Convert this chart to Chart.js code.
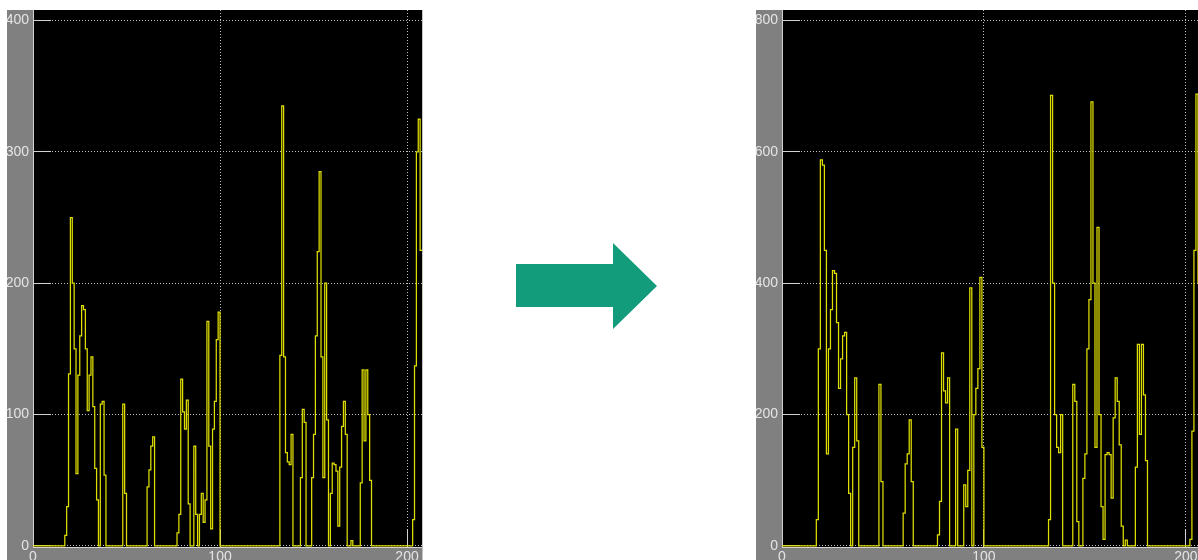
<!DOCTYPE html>
<html>
<head>
<meta charset="utf-8">
<script src="https://cdn.jsdelivr.net/npm/chart.js@4.4.1/dist/chart.umd.min.js"></script>
<style>
  html, body { margin: 0; padding: 0; background: #fff; overflow: hidden; }
  body { width: 1198px; height: 560px; position: relative; }
  .panel { position: absolute; top: 10px; height: 560px; background: #808080; }
  #leftPanel { left: 7px; width: 415px; border-right: 1px solid #c4c4c4; }
  #rightPanel { left: 756px; width: 446px; }
  .panel canvas { display: block; }
  #arrow {
    position: absolute; left: 516px; top: 243px; width: 141px; height: 86px;
    background: #139c7c;
    clip-path: polygon(0 21px, 97px 21px, 97px 0, 141px 43px, 97px 86px, 97px 64px, 0 64px);
  }
</style>
</head>
<body>
<div class="panel" id="leftPanel"><canvas id="leftChart" width="415" height="560"></canvas></div>
<div id="arrow"></div>
<div class="panel" id="rightPanel"><canvas id="rightChart" width="446" height="560"></canvas></div>
<script>
// Sample index runs 0..208, one value per sample
const xTicks = [0, 100, 200];
const leftYTicks = [0, 100, 200, 300, 400];
const rightYTicks = [0, 200, 400, 600, 800];

// Before (left panel)
const leftValues = [
    0, 0, 0, 0, 0, 0, 0, 0, 0, 0,
    0, 0, 0, 0, 0, 0, 0, 8, 30, 131,
    250, 200, 150, 55, 130, 160, 183, 180, 150, 103,
    130, 144, 106, 59, 35, 0, 108, 110, 54, 0,
    0, 0, 0, 0, 0, 0, 0, 0, 108, 40,
    0, 0, 0, 0, 0, 0, 0, 0, 0, 0,
    0, 45, 58, 76, 83, 0, 0, 0, 0, 0,
    0, 0, 0, 0, 0, 0, 0, 10, 24, 127,
    102, 89, 111, 32, 0, 0, 76, 24, 0, 24,
    40, 18, 35, 171, 76, 13, 89, 110, 157, 178,
    0, 0, 0, 0, 0, 0, 0, 0, 0, 0,
    0, 0, 0, 0, 0, 0, 0, 0, 0, 0,
    0, 0, 0, 0, 0, 0, 0, 0, 0, 0,
    0, 0, 145, 335, 144, 71, 64, 62, 85, 0,
    0, 0, 0, 52, 104, 94, 0, 0, 0, 52,
    85, 160, 224, 285, 144, 52, 200, 96, 0, 40,
    63, 62, 57, 15, 60, 91, 110, 85, 0, 0,
    4, 0, 0, 0, 0, 48, 134, 80, 134, 100,
    50, 0, 0, 0, 0, 0, 0, 0, 0, 0,
    0, 0, 0, 0, 0, 0, 0, 0, 0, 0,
    0, 0, 0, 20, 137, 300, 325, 225, 225
];

// After (right panel)
const rightValues = [
    0, 0, 0, 0, 0, 0, 0, 0, 0, 0,
    0, 0, 0, 0, 0, 0, 0, 40, 300, 588,
    580, 450, 140, 300, 360, 419, 415, 340, 240, 285,
    320, 325, 200, 80, 0, 150, 256, 160, 0, 0,
    0, 0, 0, 0, 0, 0, 0, 0, 246, 98,
    0, 0, 0, 0, 0, 0, 0, 0, 0, 0,
    50, 125, 140, 192, 98, 0, 0, 0, 0, 0,
    0, 0, 0, 0, 0, 0, 0, 17, 68, 294,
    236, 218, 256, 0, 0, 0, 178, 0, 0, 0,
    93, 60, 115, 393, 0, 200, 240, 270, 409, 150,
    0, 0, 0, 0, 0, 0, 0, 0, 0, 0,
    0, 0, 0, 0, 0, 0, 0, 0, 0, 0,
    0, 0, 0, 0, 0, 0, 0, 0, 0, 0,
    0, 0, 40, 686, 400, 200, 150, 142, 200, 0,
    0, 0, 0, 0, 246, 220, 37, 0, 0, 103,
    140, 300, 375, 676, 400, 150, 485, 200, 60, 10,
    139, 142, 139, 73, 195, 256, 220, 154, 30, 0,
    9, 0, 0, 0, 0, 120, 307, 170, 307, 230,
    130, 0, 0, 0, 0, 0, 0, 0, 0, 0,
    0, 0, 0, 0, 0, 0, 0, 0, 0, 0,
    0, 0, 10, 175, 450, 688, 400, 300, 300
];

const lineColor = 'rgb(222, 222, 0)';
const gridColor = '#c2c2c2';
const tickColor = '#d2d2d2';
const labelColor = '#e4e4e4';
const labelFont = { family: "'Liberation Sans Narrow', 'Liberation Sans', Arial, sans-serif", size: 14 };

// black plot area on the grey panel
const plotBackground = {
    id: 'plotBackground',
    beforeDraw(chart) {
        const { ctx, chartArea } = chart;
        ctx.save();
        ctx.fillStyle = '#000';
        ctx.fillRect(chartArea.left, chartArea.top, chartArea.right - chartArea.left, chartArea.bottom - chartArea.top);
        ctx.restore();
    }
};

function createScopeChart(canvasId, values, yMin, yMax, yTicks) {
    const canvas = document.getElementById(canvasId);
    return new Chart(canvas, {
        type: 'line',
        data: {
            datasets: [{
                data: values.map((v, i) => ({ x: i, y: v })),
                borderColor: lineColor,
                borderWidth: 1.25,
                stepped: true,
                pointRadius: 0,
                fill: false,
                clip: false
            }]
        },
        options: {
            responsive: false,
            animation: false,
            events: [],
            layout: { padding: 0, autoPadding: false },
            plugins: { legend: { display: false }, tooltip: { enabled: false } },
            scales: {
                x: {
                    type: 'linear',
                    min: 0,
                    max: 208,
                    afterBuildTicks: s => { s.ticks = xTicks.map(v => ({ value: v })); },
                    afterFit: s => { s.height = 23; s.paddingLeft = 0; s.paddingRight = 0; },
                    grid: {
                        color: gridColor,
                        tickLength: -18,
                        tickColor: tickColor,
                        tickWidth: 1,
                        tickBorderDash: []
                    },
                    border: { display: true, color: tickColor, width: 1, dash: [1, 2] },
                    ticks: { color: labelColor, font: labelFont, padding: 20, maxRotation: 0, autoSkip: false }
                },
                y: {
                    type: 'linear',
                    min: yMin,
                    max: yMax,
                    afterBuildTicks: s => { s.ticks = yTicks.map(v => ({ value: v })); },
                    afterFit: s => { s.width = 26; s.paddingTop = 0; s.paddingBottom = 0; },
                    grid: {
                        color: gridColor,
                        tickLength: -18,
                        tickColor: tickColor,
                        tickWidth: 1,
                        tickBorderDash: []
                    },
                    border: { display: true, color: tickColor, width: 1, dash: [1, 2] },
                    ticks: { color: labelColor, font: labelFont, padding: 22, autoSkip: false }
                }
            }
        },
        plugins: [plotBackground]
    });
}

createScopeChart('leftChart', leftValues, -0.8, 408, leftYTicks);
createScopeChart('rightChart', rightValues, -1.6, 816, rightYTicks);
</script>
</body>
</html>
